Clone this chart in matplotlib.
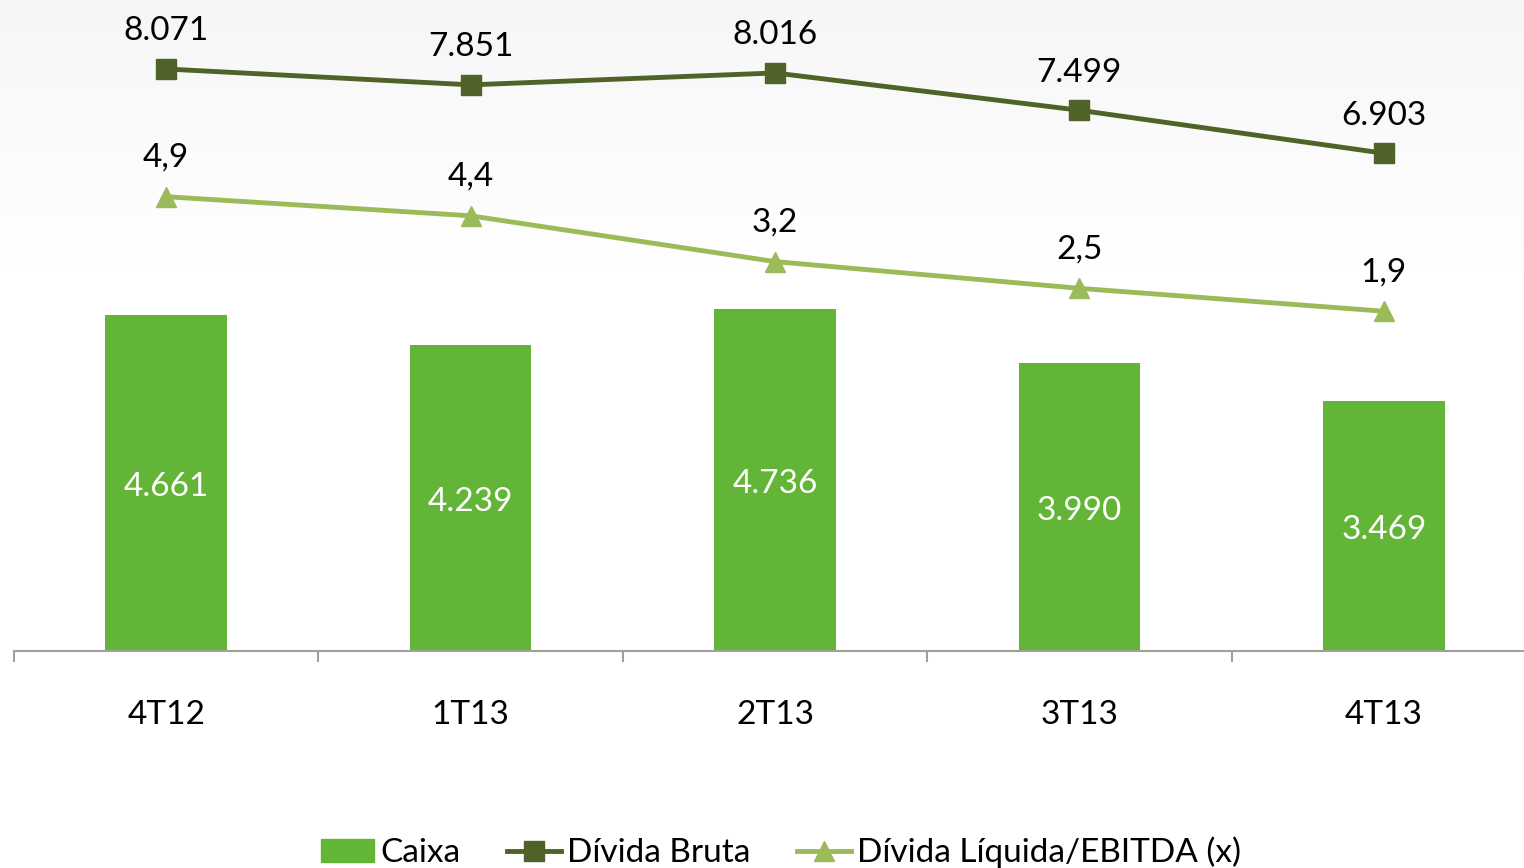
import numpy as np
import matplotlib.pyplot as plt
from matplotlib.patches import Patch
from matplotlib.lines import Line2D

# dados (R$ milhões)
trimestres = ["4T12", "1T13", "2T13", "3T13", "4T13"]
caixa = [4661, 4239, 4736, 3990, 3469]
divida_bruta = [8071, 7851, 8016, 7499, 6903]
div_liq_ebitda = [4.9, 4.4, 3.2, 2.5, 1.9]

verde_barra = "#62B536"
verde_escuro = "#4F6228"
verde_claro = "#9BBB59"

plt.rcParams['font.family'] = ['Lato', 'DejaVu Sans']

def fmt_pt(v):
    return f"{v:,.0f}".replace(",", ".")

fig = plt.figure(figsize=(15.24, 8.68), dpi=100)

# leve degradê no topo do fundo
bg = fig.add_axes([0, 0, 1, 1], zorder=-10)
img = np.ones((256, 1, 3))
g = np.concatenate([np.linspace(0.965, 1.0, 80), np.ones(176)])
img[:, 0, :] = g[:, None]
bg.imshow(img, aspect='auto', extent=[0, 1, 0, 1], origin='upper')
bg.axis('off')

ax = fig.add_axes([14 / 1524, 217 / 868, 1522 / 1524, 649 / 868])
ax.patch.set_alpha(0)
x = np.arange(len(trimestres))

ax.bar(x, caixa, width=0.40, color=verde_barra, zorder=2)
for xi, v in zip(x, caixa):
    ax.annotate(fmt_pt(v), (xi, v / 2), xytext=(0, -3), textcoords='offset points',
                ha='center', va='center', color='white', fontsize=24)

ax.plot(x, divida_bruta, color=verde_escuro, lw=3.5, marker='s', markersize=14, zorder=4)
for xi, v in zip(x, divida_bruta):
    ax.annotate(fmt_pt(v), (xi, v), xytext=(0, 27), textcoords='offset points',
                ha='center', va='center', fontsize=24, color='black')

ax.set_xlim(-0.5, 4.5)
ax.set_ylim(0, 9000)
ax.set_yticks([])
for s in ['top', 'right', 'left']:
    ax.spines[s].set_visible(False)
ax.spines['bottom'].set_color('#A0A0A0')
ax.spines['bottom'].set_linewidth(1.5)
ax.set_xticks(x)
ax.set_xticklabels(trimestres, fontsize=24)
ax.tick_params(axis='x', which='major', length=0, pad=35)
ax.set_xticks(np.arange(-0.5, 5, 1), minor=True)
ax.tick_params(axis='x', which='minor', length=8, width=1.5, color='#A0A0A0', direction='out')

ax2 = ax.twinx()
ax2.plot(x, div_liq_ebitda, color=verde_claro, lw=3.5, marker='^', markersize=14, zorder=4)
for xi, v in zip(x, div_liq_ebitda):
    ax2.annotate(f"{v:.1f}".replace(".", ","), (xi, v), xytext=(0, 28), textcoords='offset points',
                 ha='center', va='center', fontsize=24, color='black')
ax2.set_ylim(-7, 10)
ax2.set_yticks([])
for s in ['top', 'right', 'left', 'bottom']:
    ax2.spines[s].set_visible(False)

handles = [
    Patch(color=verde_barra),
    Line2D([], [], color=verde_escuro, lw=3.5, marker='s', markersize=14),
    Line2D([], [], color=verde_claro, lw=3.5, marker='^', markersize=14),
]
labels = ["Caixa", "Dívida Bruta", "Dívida Líquida/EBITDA (x)"]
fig.legend(handles, labels, loc='center', bbox_to_anchor=(0.5125, 0.018), ncol=3,
           frameon=False, fontsize=24, handlelength=1.6, handletextpad=0.2,
           columnspacing=1.4, borderaxespad=0, borderpad=0)

fig.savefig("out.png", dpi=100)
